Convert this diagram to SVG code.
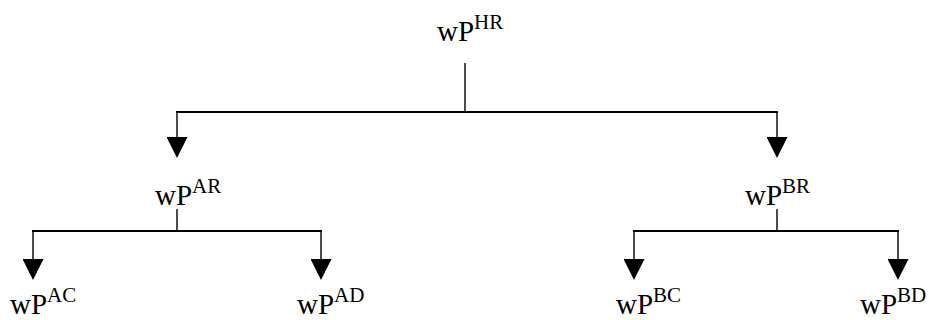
<svg xmlns="http://www.w3.org/2000/svg" width="929" height="320" viewBox="0 0 929 320">
<style>
  text { font-family: 'Liberation Serif', 'Times New Roman', Times, serif; font-size: 29px; fill: #000; }
  tspan.sup { font-size: 21px; }
  .ln { stroke: #000; stroke-width: 1.4; fill: none; }
  .bar { stroke: #000; stroke-width: 2; fill: none; }
  .arr { stroke: #000; stroke-width: 1.4; fill: none; marker-end: url(#ah); }
</style>
<defs>
  <marker id="ah" markerUnits="userSpaceOnUse" markerWidth="21" markerHeight="21" refX="10.5" refY="10.5" orient="auto" viewBox="0 0 21 21">
    <path d="M0,0 L21,10.5 L0,21 Z" fill="#000"/>
  </marker>
</defs>
<rect width="929" height="320" fill="#fff"/>
<g id="connectors">
  <line class="ln" x1="465" y1="63" x2="465" y2="112"/>
  <line class="bar" x1="176" y1="112" x2="778" y2="112"/>
  <polyline class="arr" points="177,112 177,147.5"/>
  <polyline class="arr" points="777,112 777,147.5"/>
  <line class="ln" x1="177" y1="209" x2="177" y2="231"/>
  <line class="bar" x1="32" y1="231" x2="322" y2="231"/>
  <polyline class="arr" points="33,231 33,269.5"/>
  <polyline class="arr" points="321,231 321,269.5"/>
  <line class="ln" x1="777" y1="209" x2="777" y2="231"/>
  <line class="bar" x1="633" y1="231" x2="899" y2="231"/>
  <polyline class="arr" points="634,231 634,269.5"/>
  <polyline class="arr" points="898,231 898,269.5"/>
</g>
<g id="node-HR"><text font-family="Liberation Serif, serif" x="437" y="40.5">wP<tspan class="sup" dy="-12">HR</tspan></text></g>
<g id="node-AR"><text font-family="Liberation Serif, serif" x="155" y="205">wP<tspan class="sup" dy="-12">AR</tspan></text></g>
<g id="node-BR"><text font-family="Liberation Serif, serif" x="745" y="205">wP<tspan class="sup" dy="-12">BR</tspan></text></g>
<g id="node-AC"><text font-family="Liberation Serif, serif" x="10" y="314">wP<tspan class="sup" dy="-12">AC</tspan></text></g>
<g id="node-AD"><text font-family="Liberation Serif, serif" x="297" y="314">wP<tspan class="sup" dy="-12">AD</tspan></text></g>
<g id="node-BC"><text font-family="Liberation Serif, serif" x="616" y="314">wP<tspan class="sup" dy="-12">BC</tspan></text></g>
<g id="node-BD"><text font-family="Liberation Serif, serif" x="860" y="314">wP<tspan class="sup" dy="-12">BD</tspan></text></g>
</svg>
